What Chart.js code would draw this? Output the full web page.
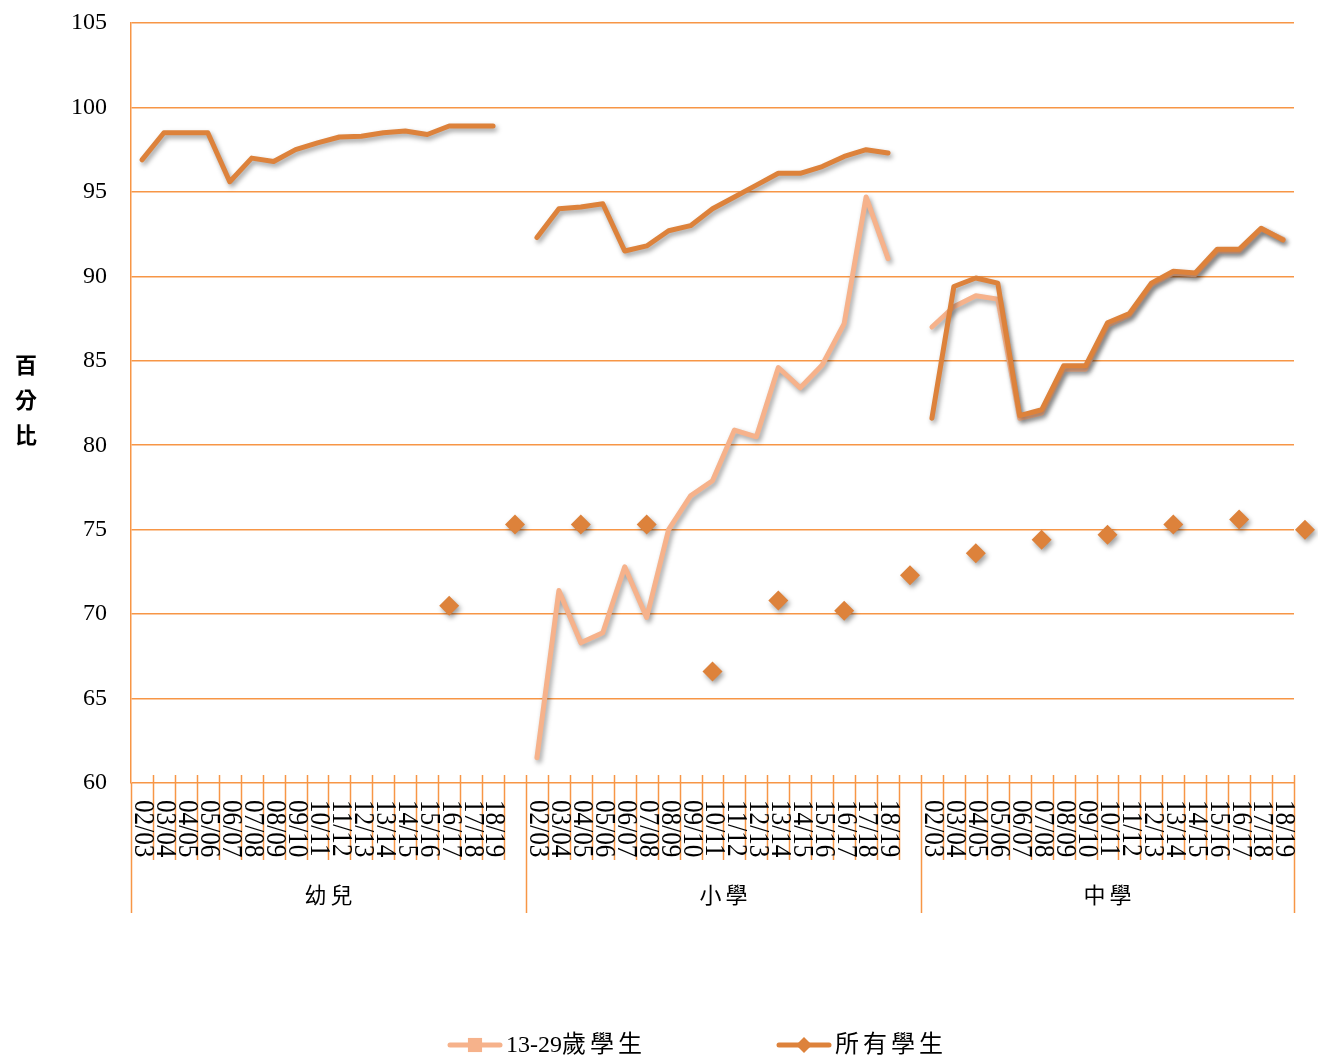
<!DOCTYPE html>
<html><head><meta charset="utf-8">
<script src="https://cdn.jsdelivr.net/npm/chart.js@4"></script>
<style>html,body{margin:0;padding:0;background:#fff;}canvas{display:block;}</style>
</head><body>
<canvas id="c" width="1318" height="1059"></canvas>
<script>
// ---------- DATA ----------
const groups = ['幼兒', '小學', '中學'];
const years = ['02/03','03/04','04/05','05/06','06/07','07/08','08/09','09/10','10/11','11/12','12/13','13/14','14/15','15/16','16/17','17/18','18/19'];
const seriesNames = ['13-29歲學生', '所有學生'];
const yTitle = '百分比';
const yTicks = [60, 65, 70, 75, 80, 85, 90, 95, 100, 105];

// 13-29歲學生
const youthKinder    = [null,null,null,null,null,null,null,null,null,null,null,null,null,null,null,null,null];
const youthPrimary   = [61.5,71.4,68.3,68.9,72.8,69.8,75.0,77.0,77.9,80.9,80.5,84.6,83.4,84.75,87.2,94.7,91.05];
const youthSecondary = [87.0,88.2,88.85,88.65,81.6,81.9,84.5,84.5,87.1,87.7,89.5,90.2,90.1,91.5,91.5,92.8,92.2];
// 所有學生
const allKinder      = [96.9,98.5,98.5,98.5,95.6,97.0,96.8,97.5,97.9,98.25,98.3,98.5,98.6,98.4,98.9,98.9,98.9];
const allPrimary     = [92.3,94.0,94.1,94.3,91.5,91.8,92.7,93.0,94.0,94.7,95.4,96.1,96.1,96.5,97.1,97.5,97.3];
const allSecondary   = [81.6,89.4,89.9,89.6,81.75,82.1,84.7,84.7,87.25,87.8,89.6,90.3,90.2,91.6,91.6,92.85,92.15];
// stray 所有學生 markers, one value per category slot (null = none)
const markerValues = [
  null,null,null,null,null,null,null,null,null,null,null,null,null,null,70.5,null,null,75.3,
  null,null,75.3,null,null,75.3,null,null,66.6,null,null,70.8,null,null,70.2,null,null,72.3,
  null,null,73.6,null,null,74.4,null,null,74.7,null,null,75.3,null,null,75.6,null,null,75.0
];

// ---------- STYLE ----------
const GRID = '#F79646';
const DARK = '#DD823B';
const LIGHT = '#F6B28B';
const SERIF = '"Liberation Serif", "Noto Sans CJK TC", serif';
const CJK = '"Noto Sans CJK TC", sans-serif';

const slotsPerGroup = years.length + 1;
const totalSlots = slotsPerGroup * (groups.length - 1) + years.length; // 53

function buildSeries(parts) {
  const pts = [];
  parts.forEach((arr, gi) => {
    arr.forEach((v, j) => pts.push({x: gi * slotsPerGroup + j, y: v}));
    if (gi < parts.length - 1) pts.push({x: gi * slotsPerGroup + years.length, y: null});
  });
  return pts;
}

function spacedText(ctx, text, x, y, spacing, align) {
  const chars = Array.from(text);
  const ws = chars.map(c => ctx.measureText(c).width + (/[\u3400-\u9fff]/.test(c) ? spacing : 0));
  let total = ws.reduce((a, b) => a + b, 0);
  if (/[\u3400-\u9fff]/.test(chars[chars.length - 1])) total -= spacing;
  let cx = align === 'center' ? x - total / 2 : x;
  ctx.textAlign = 'left';
  chars.forEach((c, i) => { ctx.fillText(c, cx, y); cx += ws[i]; });
}

function setShadow(ctx) {
  ctx.shadowColor = 'rgba(0,0,0,0.38)';
  ctx.shadowBlur = 5;
  ctx.shadowOffsetX = 2;
  ctx.shadowOffsetY = 3;
}

const shadowPlugin = {
  id: 'shadow',
  beforeDatasetDraw(chart) {
    chart.ctx.save();
    setShadow(chart.ctx);
  },
  afterDatasetDraw(chart, args) {
    const ctx = chart.ctx;
    ctx.restore();
    // markers lying past the plot edge are skipped by the library's area test; draw them with the full canvas as area
    if (args.meta.dataset && args.meta.dataset.options && args.meta.dataset.options.showLine === false) {}
    if (chart.data.datasets[args.index].showLine === false) {
      const a = chart.chartArea;
      const full = {left: 0, top: 0, right: chart.width, bottom: chart.height};
      ctx.save();
      setShadow(ctx);
      args.meta.data.forEach(el => {
        if (!el.skip && (el.x > a.right || el.x < a.left)) el.draw(ctx, full);
      });
      ctx.restore();
    }
  }
};

const axisPlugin = {
  id: 'groupAxis',
  afterDraw(chart) {
    const {ctx, chartArea, scales: {x}} = chart;
    const half = (x.getPixelForValue(1) - x.getPixelForValue(0)) / 2;
    const axisY = chartArea.bottom;
    ctx.save();
    ctx.strokeStyle = GRID;
    ctx.lineWidth = 1.5;
    for (let i = 0; i <= totalSlots; i++) {
      const px = Math.round(x.getPixelForValue(i) - half) + 0.5;
      const isGroup = (i % slotsPerGroup === 0) || i === totalSlots;
      const top = i === 0 ? axisY : axisY - 8;
      const bottom = isGroup ? axisY + 130 : axisY + 77;
      ctx.beginPath(); ctx.moveTo(px, top); ctx.lineTo(px, bottom); ctx.stroke();
    }
    ctx.fillStyle = '#000';
    groups.forEach((g, gi) => {
      ctx.font = '29px ' + SERIF;
      years.forEach((yr, j) => {
        const px = x.getPixelForValue(gi * slotsPerGroup + j);
        ctx.save();
        ctx.translate(px + 1, axisY + 17);
        ctx.rotate(Math.PI / 2);
        ctx.scale(0.87, 1);
        ctx.textAlign = 'left';
        ctx.textBaseline = 'middle';
        ctx.fillText(yr, 0, 0);
        ctx.restore();
      });
      const start = x.getPixelForValue(gi * slotsPerGroup) - half;
      const end = x.getPixelForValue(gi * slotsPerGroup + years.length - 1) + half + (gi < groups.length - 1 ? 2 * half : 0);
      ctx.font = '22px ' + CJK;
      ctx.textBaseline = 'middle';
      spacedText(ctx, g, (start + end) / 2, axisY + 112, 4, 'center');
    });
    // y title
    ctx.font = 'bold 22px ' + CJK;
    ctx.textBaseline = 'middle';
    Array.from(yTitle).forEach((c, i) => {
      ctx.textAlign = 'center';
      ctx.fillText(c, 26, 365 + i * 35);
    });
    // legend
    const ly = 1045;
    const items = [
      {x: 448, color: LIGHT, style: 'rect', r: 10, text: chart.data.datasets[1].label},
      {x: 777, color: DARK, style: 'rectRot', r: 8, text: chart.data.datasets[0].label}
    ];
    items.forEach(it => {
      ctx.strokeStyle = it.color; ctx.lineWidth = 5; ctx.lineCap = 'round';
      ctx.beginPath(); ctx.moveTo(it.x + 2, ly); ctx.lineTo(it.x + 52, ly); ctx.stroke();
      ctx.fillStyle = it.color;
      ctx.strokeStyle = it.color;
      Chart.helpers.drawPoint(ctx, {pointStyle: it.style, rotation: 0, borderWidth: 0, radius: it.r}, it.x + 27, ly);
      ctx.fillStyle = '#000';
      ctx.font = '24px ' + SERIF;
      ctx.textBaseline = 'middle';
      spacedText(ctx, it.text, it.x + 58, ly + 1, 4, 'left');
    });
    ctx.restore();
  }
};

new Chart(document.getElementById('c'), {
  type: 'line',
  data: {
    datasets: [
      {label: seriesNames[1], data: buildSeries([allKinder, allPrimary, allSecondary]),
       borderColor: DARK, backgroundColor: DARK, borderWidth: 5, pointRadius: 0, tension: 0,
       borderJoinStyle: 'round', borderCapStyle: 'round', spanGaps: false, order: 1},
      {label: seriesNames[0], data: buildSeries([youthKinder, youthPrimary, youthSecondary]),
       borderColor: LIGHT, backgroundColor: LIGHT, borderWidth: 5, pointRadius: 0, tension: 0,
       borderJoinStyle: 'round', borderCapStyle: 'round', spanGaps: false, order: 2},
      {label: seriesNames[1] + ' markers', data: markerValues.map((v, i) => ({x: i, y: v})),
       showLine: false, pointStyle: 'rectRot', pointRadius: 10, pointBorderWidth: 0,
       backgroundColor: DARK, borderColor: DARK, clip: false, order: 0}
    ]
  },
  options: {
    responsive: false, animation: false, devicePixelRatio: 1,
    layout: {padding: {left: 0, right: 24, top: 23, bottom: 276}},
    plugins: {legend: {display: false}, tooltip: {enabled: false}},
    scales: {
      x: {type: 'linear', display: false, bounds: 'data',
          afterDataLimits(s) { s.min = -0.5; s.max = totalSlots - 0.5; }},
      y: {
        min: yTicks[0], max: yTicks[yTicks.length - 1],
        afterFit(s) { s.width = 131; s.paddingTop = 0; s.paddingBottom = 0; },
        afterBuildTicks(s) { s.ticks = yTicks.map(v => ({value: v})); },
        ticks: {font: {family: SERIF, size: 24}, color: '#000', padding: 24},
        grid: {color: GRID, lineWidth: 1.5, drawTicks: false},
        border: {color: GRID, width: 1.5}
      }
    }
  },
  plugins: [shadowPlugin, axisPlugin]
});
</script>
</body></html>
